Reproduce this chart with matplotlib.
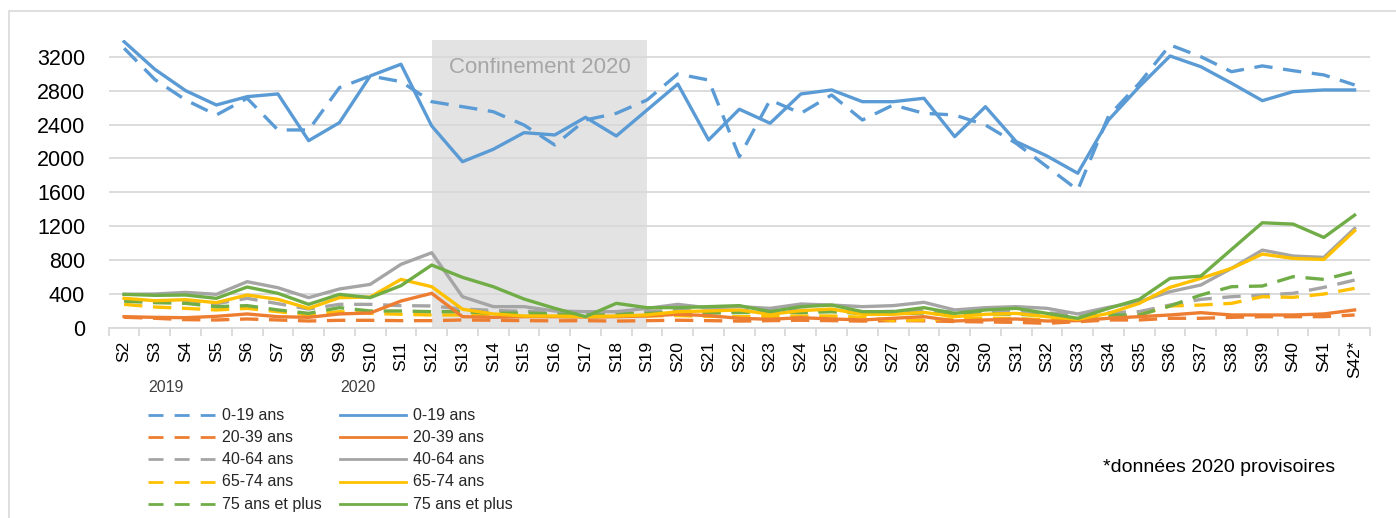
import numpy as np
import matplotlib
matplotlib.use('Agg')
import matplotlib.pyplot as plt
from matplotlib.lines import Line2D
from matplotlib.patches import Rectangle

plt.rcParams['font.family'] = ['Liberation Sans', 'DejaVu Sans']

# Données (semaines S2 à S42)

semaines = ['S' + str(i) for i in range(2, 42)] + ['S42*']
debut_confinement = 'S12'
fin_confinement = 'S19'

classes_age = ['0-19 ans', '20-39 ans', '40-64 ans', '65-74 ans', '75 ans et plus']
couleurs = ['#5B9BD5', '#ED7D31', '#A5A5A5', '#FFC000', '#70AD47']

# 2019 (pointillés)
ans_0_19_2019 = [3298, 2930, 2689, 2512, 2709, 2336, 2336, 2834, 2972, 2905, 2669, 2610,
                 2551, 2394, 2159, 2453, 2532, 2689, 2995, 2924, 2021, 2689, 2532, 2748, 2453, 2630, 2532,
                 2512, 2394, 2178, 1903, 1629, 2500, 2886, 3337, 3199, 3022, 3090, 3034, 2984, 2866]
ans_20_39_2019 = [130, 118, 102, 98, 110, 98, 86, 94, 94, 90, 90,
                  98, 95, 90, 88, 90, 85, 90, 95, 90, 85,
                  90, 95, 90, 85, 90, 88, 80, 75, 70, 59,
                  78, 98, 98, 118, 118, 129, 137, 137, 137, 157]
ans_40_64_2019 = [330, 320, 330, 290, 353, 290, 227, 282, 282, 267, 263,
                  227, 210, 200, 195, 190, 195, 200, 210, 200, 205,
                  210, 215, 200, 190, 200, 210, 190, 200, 195, 180,
                  170, 185, 196, 274, 341, 372, 392, 412, 482, 568]
ans_65_74_2019 = [282, 251, 235, 216, 235, 196, 157, 196, 176, 165, 157,
                  157, 150, 140, 140, 135, 140, 145, 150, 140, 137,
                  140, 145, 145, 130, 90, 98, 110, 120, 115, 100,
                  95, 130, 157, 263, 274, 294, 372, 365, 404, 470]
ans_75_plus_2019 = [320, 302, 294, 255, 267, 216, 176, 243, 204, 204, 196,
                    196, 176, 180, 170, 165, 170, 175, 190, 180, 185,
                    190, 185, 195, 175, 170, 180, 160, 170, 165, 150,
                    130, 157, 157, 263, 392, 490, 498, 608, 576, 666]

# 2020 (traits pleins)
ans_0_19_2020 = [3376, 3050, 2799, 2630, 2728, 2760, 2210, 2422, 2972, 3110, 2383, 1962,
                 2108, 2304, 2277, 2485, 2265, 2571, 2877, 2218, 2580, 2415, 2760, 2807, 2669, 2669, 2709,
                 2257, 2610, 2198, 2029, 1826, 2453, 2846, 3207, 3081, 2886, 2681, 2787, 2807, 2807]
ans_20_39_2020 = [137, 129, 125, 141, 169, 137, 129, 169, 180, 321, 412,
                  137, 129, 137, 137, 133, 137, 145, 165, 149, 118,
                  106, 125, 110, 98, 118, 137, 86, 98, 110, 86,
                  90, 118, 137, 157, 184, 157, 157, 157, 169, 216]
ans_40_64_2020 = [400, 404, 423, 400, 549, 478, 361, 463, 517, 753, 890,
                  372, 255, 255, 204, 196, 196, 235, 282, 240, 255,
                  235, 286, 274, 255, 267, 306, 216, 243, 255, 235,
                  169, 247, 314, 431, 510, 706, 921, 851, 835, 1176]
ans_65_74_2020 = [353, 325, 337, 302, 392, 341, 235, 361, 368, 576, 490,
                  225, 169, 145, 145, 137, 145, 157, 196, 204, 216,
                  165, 208, 227, 165, 165, 188, 137, 165, 176, 137,
                  106, 176, 294, 482, 588, 706, 874, 823, 811, 1149]
ans_75_plus_2020 = [400, 388, 392, 353, 486, 412, 282, 400, 361, 502, 745,
                    600, 490, 345, 235, 137, 294, 243, 243, 255, 267,
                    196, 255, 274, 196, 196, 243, 176, 216, 235, 176,
                    118, 235, 341, 588, 615, 929, 1243, 1227, 1070, 1333]

series_2019 = [ans_0_19_2019, ans_20_39_2019, ans_40_64_2019, ans_65_74_2019, ans_75_plus_2019]
series_2020 = [ans_0_19_2020, ans_20_39_2020, ans_40_64_2020, ans_65_74_2020, ans_75_plus_2020]


# Figure

W, H = 1396, 518
fig = plt.figure(figsize=(W / 100, H / 100), dpi=100)

# cadre gris autour du graphique
fig.add_artist(Rectangle((9 / W, -0.05), 1.2, 1.05 - 11 / H, transform=fig.transFigure,
                         fill=False, edgecolor='#D9D9D9', lw=1.2))

ax = fig.add_axes([108.7 / W, 1 - 328.3 / H, (1370 - 108.7) / W, (328.3 - 39.6) / H])

x = np.arange(len(semaines))

# zone confinement
i0 = semaines.index(debut_confinement)
i1 = semaines.index(fin_confinement)
ax.axvspan(i0, i1, color='#E3E3E3', lw=0, zorder=0.2)
ax.text((i0 + i1) / 2, 3070, 'Confinement 2020', color='#A6A6A6', fontsize=16,
        ha='center', va='center', zorder=0.3)

for vals, c in zip(series_2019, couleurs):
    ax.plot(x, vals, color=c, lw=2.4, dashes=(5.5, 3.2), zorder=2)

for vals, c in zip(series_2020, couleurs):
    ax.plot(x, vals, color=c, lw=2.4, zorder=3)

ax.set_xlim(-0.5, len(semaines) - 0.5)
ax.set_ylim(0, 3400)
ax.set_yticks(np.arange(0, 3201, 400))
ax.yaxis.grid(True, color='#D9D9D9', lw=1.3)
ax.set_axisbelow(True)

for s in ['top', 'right', 'left']:
    ax.spines[s].set_visible(False)
ax.spines['bottom'].set_color('#D9D9D9')
ax.spines['bottom'].set_linewidth(1.3)

ax.tick_params(axis='y', length=0, pad=17, labelsize=15.5)
ax.set_xticks(x)
ax.set_xticklabels(semaines, rotation=90, fontsize=12.5)
ax.tick_params(axis='x', which='major', length=0, pad=9)
ax.set_xticks(np.arange(-0.5, len(semaines)), minor=True)
ax.tick_params(axis='x', which='minor', length=6, color='#D9D9D9', width=1.3)


# Légende faite à la main

def fx(px):
    return px / W

def fy(py):
    return 1 - py / H

fig.text(fx(148), fy(387), '2019', fontsize=11.5, color='#404040', va='center')
fig.text(fx(340), fy(387), '2020', fontsize=11.5, color='#404040', va='center')

lignes_y = [415, 437, 459, 482, 504]
for lab, c, yy in zip(classes_age, couleurs, lignes_y):
    fig.add_artist(Line2D([fx(148), fx(215)], [fy(yy), fy(yy)], transform=fig.transFigure,
                          color=c, lw=2, dashes=(5.4, 4)))
    fig.text(fx(222), fy(yy), lab, fontsize=11.5, color='#262626', va='center')
    fig.add_artist(Line2D([fx(340), fx(406)], [fy(yy), fy(yy)], transform=fig.transFigure,
                          color=c, lw=2))
    fig.text(fx(413), fy(yy), lab, fontsize=11.5, color='#262626', va='center')

fig.text(fx(1103), fy(467), '*données 2020 provisoires', fontsize=14, color='black', va='center')

plt.savefig('out.png', dpi=100)
plt.close()
